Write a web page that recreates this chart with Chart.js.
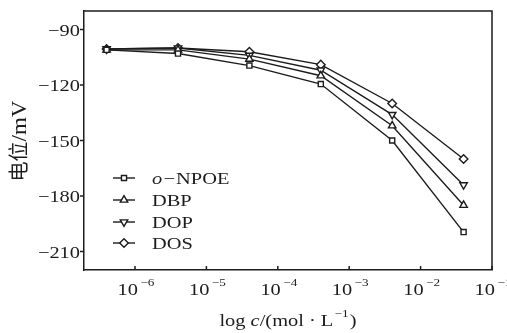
<!DOCTYPE html>
<html>
<head>
<meta charset="utf-8">
<script src="https://cdn.jsdelivr.net/npm/chart.js@4"></script>
<style>
  html, body { margin: 0; padding: 0; background: #fff; }
  #wrap { width: 507px; height: 333px; }
</style>
</head>
<body>
<div id="wrap"><canvas id="myChart" width="507" height="333"></canvas></div>
<script>
// concentration (mol/L) and potential (mV)
const concentrations = [4e-7, 4e-6, 4e-5, 4e-4, 4e-3, 4e-2];
const npoe = [-101, -103, -109.5, -119.5, -150, -199.5];
const dbp = [-101, -101, -106, -115, -142, -185];
const dop = [-100.5, -100, -104, -112, -136, -174];
const dos = [-100.5, -100, -102, -109, -130, -160];
const seriesNames = ["o-NPOE", "DBP", "DOP", "DOS"];
const yTicks = [-90, -120, -150, -180, -210];
const xTickExps = [-6, -5, -4, -3, -2, -1];

const ink = "#1c1c1c";
const serif = "'Liberation Serif', 'Times New Roman', serif";
const SX = 1.2; // the original lettering is a bit wide

function pts(vals) {
    return vals.map((v, i) => ({ x: concentrations[i], y: v }));
}

const styles = [
    { pointStyle: "rect", rotation: 0, radius: 3.6 },
    { pointStyle: "triangle", rotation: 0, radius: 4.3 },
    { pointStyle: "triangle", rotation: 180, radius: 4.3 },
    { pointStyle: "rectRot", rotation: 0, radius: 4.3 }
];

const datasets = [npoe, dbp, dop, dos].map((vals, i) => ({
    label: seriesNames[i],
    data: pts(vals),
    borderColor: ink,
    borderWidth: 1.4,
    backgroundColor: "#fff",
    pointStyle: styles[i].pointStyle,
    pointRotation: styles[i].rotation,
    pointRadius: styles[i].radius,
    pointBorderWidth: 1.4,
    pointBorderColor: ink,
    pointBackgroundColor: "#fff",
    tension: 0
}));

// parts: [text, size, italic, rise, gapAfter]
function txt(ctx, parts, x, baseline, align) {
    let total = 0;
    parts.forEach(p => {
        ctx.font = (p[2] ? "italic " : "") + p[1] + "px " + serif;
        p.w = ctx.measureText(p[0]).width + (p[4] || 0);
        total += p.w;
    });
    total *= SX;
    let start = x;
    if (align === "center") start = x - total / 2;
    if (align === "right") start = x - total;
    ctx.save();
    ctx.translate(start, baseline);
    ctx.scale(SX, 1);
    ctx.textAlign = "left";
    ctx.textBaseline = "alphabetic";
    let cx = 0;
    parts.forEach(p => {
        ctx.font = (p[2] ? "italic " : "") + p[1] + "px " + serif;
        ctx.fillText(p[0], cx, -p[3]);
        cx += p.w;
    });
    ctx.restore();
}

const decor = {
    id: "decor",
    afterDraw(chart) {
        const ctx = chart.ctx;
        const a = chart.chartArea;
        const xs = chart.scales.x;
        const ys = chart.scales.y;
        ctx.save();
        ctx.strokeStyle = ink;
        ctx.fillStyle = ink;
        ctx.lineWidth = 1.5;
        // top and right frame
        ctx.beginPath();
        ctx.moveTo(a.left, a.top);
        ctx.lineTo(a.right, a.top);
        ctx.lineTo(a.right, a.bottom);
        ctx.stroke();

        // y ticks outside + labels
        yTicks.forEach(v => {
            const py = ys.getPixelForValue(v);
            ctx.beginPath();
            ctx.moveTo(a.left - 4, py);
            ctx.lineTo(a.left, py);
            ctx.stroke();
            txt(ctx, [["\u2212" + Math.abs(v), 17, false, 0]], a.left - 4, py + 6, "right");
        });

        // x ticks inside + labels
        xTickExps.forEach(e => {
            const px = xs.getPixelForValue(Math.pow(10, e));
            ctx.beginPath();
            ctx.moveTo(px, a.bottom);
            ctx.lineTo(px, a.bottom - 4);
            ctx.stroke();
            txt(ctx, [["10", 17, false, 0, 2], ["\u2212" + Math.abs(e), 11, false, 9]], px + 1, 295, "center");
        });

        // x title
        txt(ctx, [["log ", 17, false, 0], ["c", 17, true, 0], ["/(mol \u00b7 L", 17, false, 0, 1],
            ["\u2212" + "1", 11, false, 9, 1], [")", 17, false, 0]], 288, 326, "center");

        // y title
        ctx.save();
        ctx.translate(26, 141);
        ctx.rotate(-Math.PI / 2);
        ctx.font = "20px 'Noto Sans CJK SC', sans-serif";
        const t1 = "电位";
        const w1 = ctx.measureText(t1).width;
        ctx.font = "20px " + serif;
        const t2 = "/mV";
        const w2 = ctx.measureText(t2).width * 1.15;
        const sx = -(w1 + w2) / 2;
        ctx.textBaseline = "alphabetic";
        ctx.textAlign = "left";
        ctx.font = "20px 'Noto Sans CJK SC', sans-serif";
        ctx.fillText(t1, sx, 0);
        ctx.translate(sx + w1, 0);
        ctx.scale(1.15, 1);
        ctx.font = "20px " + serif;
        ctx.fillText(t2, 0, 0);
        ctx.restore();

        // legend
        const rows = [178, 200, 222, 243];
        chart.data.datasets.forEach((ds, i) => {
            const y = rows[i];
            ctx.lineWidth = 1.4;
            ctx.beginPath();
            ctx.moveTo(113, y);
            ctx.lineTo(135, y);
            ctx.stroke();
            ctx.fillStyle = "#fff";
            Chart.helpers.drawPoint(ctx, {
                pointStyle: ds.pointStyle,
                rotation: ds.pointRotation,
                radius: ds.pointRadius,
                borderWidth: 1.4
            }, 124, y);
            ctx.fillStyle = ink;
            if (i === 0) {
                txt(ctx, [["o", 17, true, 0, 1], ["\u2212", 17, false, 0, 1], ["NPOE", 17, false, 0]], 152, y + 6, "left");
            } else {
                txt(ctx, [[ds.label, 17, false, 0]], 152, y + 6, "left");
            }
        });
        ctx.restore();
    }
};

new Chart("myChart", {
    type: "line",
    data: { datasets: datasets },
    options: {
        responsive: false,
        animation: false,
        layout: { padding: { top: 11, right: 15, left: 0, bottom: 0 } },
        plugins: { legend: { display: false }, tooltip: { enabled: false } },
        scales: {
            x: {
                type: "logarithmic",
                min: 1.93e-7,
                max: 0.1,
                ticks: { display: false },
                grid: { display: false },
                border: { display: true, color: ink, width: 1.5 },
                afterFit(s) { s.height = 63; }
            },
            y: {
                type: "linear",
                min: -220,
                max: -80,
                afterBuildTicks(s) { s.ticks = yTicks.map(v => ({ value: v })); },
                ticks: { display: false },
                grid: { display: false },
                border: { display: true, color: ink, width: 1.5 },
                afterFit(s) { s.width = 84; }
            }
        }
    },
    plugins: [decor]
});
</script>
</body>
</html>
